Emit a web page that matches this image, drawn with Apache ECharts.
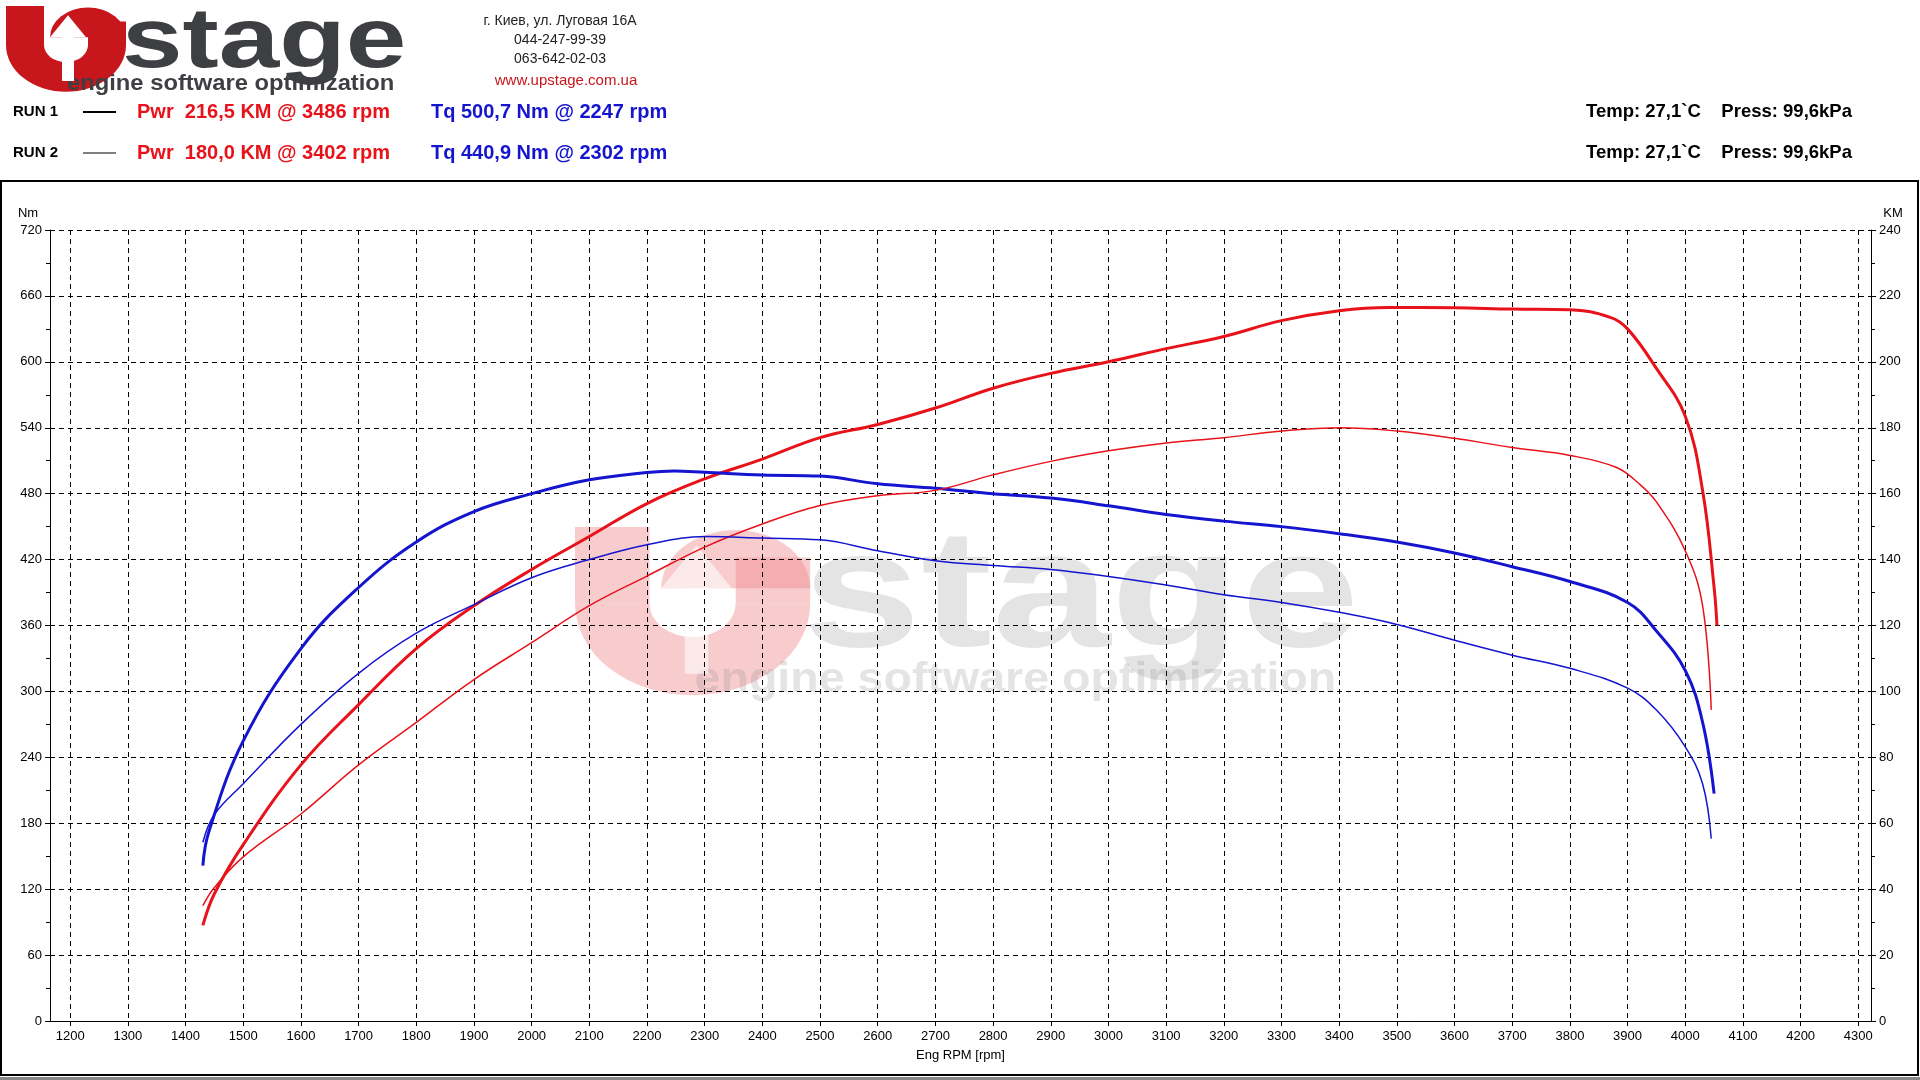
<!DOCTYPE html>
<html><head><meta charset="utf-8">
<script src="https://cdn.jsdelivr.net/npm/echarts@6/dist/echarts.min.js"></script>
<style>html,body{margin:0;padding:0;background:#fff}#c{width:1920px;height:1080px}</style>
</head><body><div id="c"></div>
<script>
const rpmTicks=[1200,1300,1400,1500,1600,1700,1800,1900,2000,2100,2200,2300,2400,2500,2600,2700,2800,2900,3000,3100,3200,3300,3400,3500,3600,3700,3800,3900,4000,4100,4200,4300];
const pwr1=[[1430,29],[1450,38.6],[1500,53.5],[1600,77.7],[1700,96],[1800,113],[1900,126],[2000,137],[2100,147],[2200,157],[2300,164.5],[2400,170.5],[2500,177],[2600,181],[2700,186],[2800,192],[2900,196.5],[3000,200],[3100,204],[3200,207.7],[3300,212.5],[3400,215.5],[3486,216.5],[3600,216.4],[3700,216],[3800,215.8],[3870,213.5],[3900,210],[3950,198],[4000,183.5],[4030,161],[4050,131.5],[4055,120]];
const tq1=[[1430,141.5],[1440,171.6],[1500,255],[1600,339],[1700,394.6],[1800,436],[1900,463.7],[2000,480],[2100,492.6],[2200,499.3],[2247,500.7],[2300,499.5],[2400,497],[2500,496],[2600,489],[2700,485],[2800,480],[2900,476],[3000,469],[3100,461],[3200,455],[3300,450],[3400,443.6],[3500,436],[3600,426],[3700,413.5],[3800,400],[3900,381],[3950,355],[4000,319],[4030,272],[4050,207]];
const pwr2=[[1430,35],[1450,40.5],[1500,49.8],[1600,62.8],[1700,77.7],[1800,90.6],[1900,103.6],[2000,114.8],[2100,126],[2200,135],[2300,143.8],[2400,150.8],[2500,156.4],[2600,159.4],[2700,161],[2800,165.7],[2900,169.8],[3000,173],[3100,175.4],[3200,177],[3300,179],[3402,180],[3500,179],[3600,176.8],[3700,174],[3800,171.6],[3880,168],[3920,163],[3950,157.5],[4000,142.7],[4030,126],[4045,94.4]];
const tq2=[[1430,162.7],[1450,188],[1500,216],[1600,270],[1700,316.5],[1800,353],[1900,379],[2000,403.5],[2100,420],[2200,433.6],[2302,440.9],[2400,439.6],[2500,438],[2600,428],[2700,419],[2800,414.6],[2900,411],[3000,404.6],[3100,396.8],[3200,388],[3300,381],[3400,372],[3500,361],[3600,346.6],[3700,333],[3800,321],[3900,303],[3950,283],[4000,249.6],[4030,216],[4045,166]];
const headerRuns=[
 {run:'RUN 1',pwr:'Pwr  216,5 KM @ 3486 rpm',tq:'Tq 500,7 Nm @ 2247 rpm',lw:2},
 {run:'RUN 2',pwr:'Pwr  180,0 KM @ 3402 rpm',tq:'Tq 440,9 Nm @ 2302 rpm',lw:1}];
const ch=echarts.init(document.getElementById('c'));
const F='Arial, Liberation Sans, sans-serif';
const g=[];
g.push({type:'rect',shape:{x:1,y:181,width:1917,height:894},style:{fill:'none',stroke:'#000',lineWidth:2},z:-1});
g.push({type:'rect',shape:{x:0,y:1077,width:1920,height:3},style:{fill:'#888'}});
function logo(x,y,s,red,grey,arrow,z){
 const U={type:'group',scaleY:0.78,children:[
  {type:'rect',z:z,shape:{x:0,y:0,width:38,height:50},style:{fill:red}},
  {type:'rect',z:z,shape:{x:82,y:20,width:38,height:30},style:{fill:red}},
  {type:'sector',z:z,shape:{cx:60,cy:50,r:60,r0:22,startAngle:0,endAngle:Math.PI,clockwise:true},style:{fill:red}},
  {type:'sector',z:z,shape:{cx:82,cy:40,r:38,r0:0,startAngle:-Math.PI,endAngle:0,clockwise:true},style:{fill:red}},
  {type:'polygon',z:z+1,shape:{points:[[62,12],[44,40],[56,40],[56,96],[68,96],[68,40],[80,40]]},style:{fill:arrow}}]};
 g.push({type:'group',x:x,y:y,scaleX:s,scaleY:s,children:[U,
  {type:'text',z:z,x:116,y:80,scaleX:1.28,style:{text:'stage',font:'bold 85px '+F,fill:grey,verticalAlign:'bottom'}},
  {type:'text',z:z,x:61,y:89,scaleX:1.08,style:{text:'engine software optimization',font:'bold 22px '+F,fill:grey,verticalAlign:'bottom'}}]});
}
logo(6,6,1,'#c8161d','#3d3f43','#fff',5);
logo(575,527,1.96,'rgba(240,140,145,0.45)','rgba(130,130,135,0.22)','rgba(255,255,255,0.6)',-2);
['г. Киев, ул. Луговая 16А','044-247-99-39','063-642-02-03'].forEach((t,i)=>g.push({type:'text',x:560,y:21+i*19,style:{text:t,font:'14px '+F,fill:'#222',align:'center',verticalAlign:'middle'}}));
g.push({type:'text',x:566,y:81,style:{text:'www.upstage.com.ua',font:'15px '+F,fill:'#c8161d',align:'center',verticalAlign:'middle'}});
headerRuns.forEach((r,i)=>{const y=112+i*41;
 g.push({type:'text',x:13,y:y,style:{text:r.run,font:'bold 15px '+F,fill:'#000',verticalAlign:'middle'}});
 g.push({type:'line',shape:{x1:83,y1:y,x2:116,y2:y},style:{stroke:'#000',lineWidth:r.lw}});
 g.push({type:'text',x:137,y:y,style:{text:r.pwr,font:'bold 20px '+F,fill:'#e8121a',verticalAlign:'middle'}});
 g.push({type:'text',x:431,y:y,style:{text:r.tq,font:'bold 20px '+F,fill:'#1515d0',verticalAlign:'middle'}});
 g.push({type:'text',x:1586,y:y,style:{text:'Temp: 27,1`C    Press: 99,6kPa',font:'bold 18.5px '+F,fill:'#000',verticalAlign:'middle'}});
});
g.push({type:'text',x:28,y:213,style:{text:'Nm',font:'13px '+F,fill:'#000',align:'center',verticalAlign:'middle'}});
g.push({type:'text',x:1893,y:213,style:{text:'KM',font:'13px '+F,fill:'#000',align:'center',verticalAlign:'middle'}});
const dash={show:true,lineStyle:{color:'#000',type:[5,4],width:1}};
ch.setOption({
 animation:false,graphic:g,
 grid:{left:50,right:49,top:230,bottom:59},
 xAxis:{type:'value',min:1165,max:4322,name:'Eng RPM [rpm]',nameLocation:'middle',nameGap:28,nameTextStyle:{color:'#000',fontSize:13,fontFamily:F},
  axisLine:{lineStyle:{color:'#000'}},axisTick:{customValues:rpmTicks,length:5,lineStyle:{color:'#000'}},
  axisLabel:{customValues:rpmTicks,formatter:v=>String(v),color:'#000',fontSize:13,fontFamily:F,margin:9},
  splitLine:dash},
 yAxis:[
  {type:'value',min:0,max:720,interval:60,axisLine:{show:true,lineStyle:{color:'#000'}},axisTick:{show:true,length:5,lineStyle:{color:'#000'}},
   minorTick:{show:true,splitNumber:2,length:4,lineStyle:{color:'#000'}},axisLabel:{color:'#000',fontSize:13,fontFamily:F},splitLine:dash},
  {type:'value',min:0,max:240,interval:20,position:'right',axisLine:{show:true,lineStyle:{color:'#000'}},axisTick:{show:true,length:5,lineStyle:{color:'#000'}},
   minorTick:{show:true,splitNumber:2,length:4,lineStyle:{color:'#000'}},axisLabel:{color:'#000',fontSize:13,fontFamily:F},splitLine:{show:false}}],
 series:[
  {type:'line',data:pwr1,yAxisIndex:1,smooth:0.4,showSymbol:false,lineStyle:{color:'#e8121a',width:3}},
  {type:'line',data:tq1,yAxisIndex:0,smooth:0.4,showSymbol:false,lineStyle:{color:'#1515d0',width:3}},
  {type:'line',data:pwr2,yAxisIndex:1,smooth:0.4,showSymbol:false,lineStyle:{color:'#e8121a',width:1.5}},
  {type:'line',data:tq2,yAxisIndex:0,smooth:0.4,showSymbol:false,lineStyle:{color:'#1515d0',width:1.5}}]
});
</script></body></html>
